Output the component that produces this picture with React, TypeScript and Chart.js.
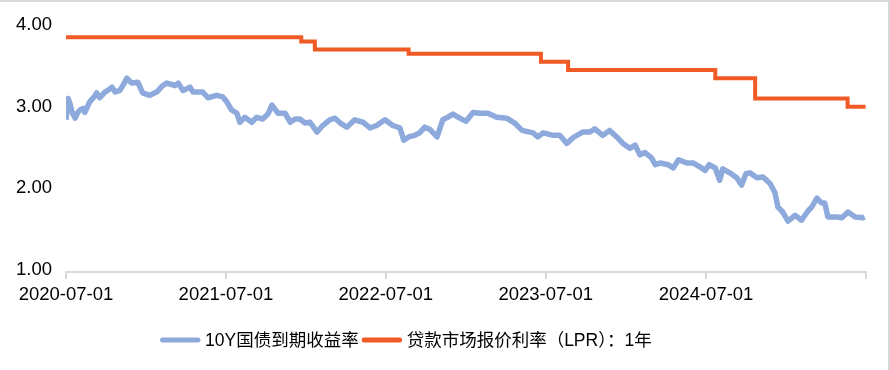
import React, { useEffect, useRef } from "react";
import { Chart, registerables } from "chart.js";

Chart.register(...registerables);

const yieldDates = [
  "2020-07-01","2020-07-06","2020-07-10","2020-07-15","2020-07-22","2020-07-28","2020-08-02","2020-08-09","2020-08-13","2020-08-24",
  "2020-09-03","2020-09-09","2020-09-16","2020-09-28","2020-10-07","2020-10-14","2020-10-21","2020-11-01","2020-11-10","2020-11-17",
  "2020-11-28","2020-12-12","2020-12-23","2021-01-08","2021-01-24","2021-02-05","2021-02-16","2021-03-07","2021-03-14","2021-03-25",
  "2021-04-10","2021-04-17","2021-05-09","2021-05-21","2021-06-10","2021-06-24","2021-07-03","2021-07-14","2021-07-26","2021-08-02",
  "2021-08-13","2021-08-29","2021-09-09","2021-09-23","2021-10-05","2021-10-14","2021-10-28","2021-11-13","2021-11-25","2021-12-06",
  "2021-12-17","2021-12-29","2022-01-09","2022-01-25","2022-02-07","2022-02-23","2022-03-07","2022-03-19","2022-04-03","2022-04-21",
  "2022-05-10","2022-05-26","2022-06-10","2022-06-29","2022-07-17","2022-08-02","2022-08-11","2022-08-22","2022-09-05","2022-09-16",
  "2022-09-28","2022-10-10","2022-10-26","2022-11-08","2022-11-19","2022-12-01","2022-12-17","2022-12-31","2023-01-16","2023-02-01",
  "2023-02-19","2023-03-11","2023-04-03","2023-04-21","2023-05-08","2023-06-02","2023-06-13","2023-06-25","2023-07-18","2023-08-02",
  "2023-08-18","2023-09-01","2023-09-23","2023-10-10","2023-10-21","2023-11-08","2023-11-24","2023-12-10","2023-12-24","2024-01-09",
  "2024-01-21","2024-02-01","2024-02-12","2024-02-28","2024-03-07","2024-03-18","2024-04-05","2024-04-17","2024-04-29","2024-05-19",
  "2024-06-02","2024-06-18","2024-06-29","2024-07-08","2024-07-22","2024-08-01","2024-08-08","2024-08-24","2024-09-09","2024-09-20",
  "2024-09-30","2024-10-09","2024-10-25","2024-11-08","2024-11-24","2024-12-05","2024-12-12","2024-12-23","2025-01-04","2025-01-20",
  "2025-02-04","2025-02-18","2025-02-27","2025-03-11","2025-03-22","2025-03-29","2025-04-05","2025-04-26","2025-05-07","2025-05-21",
  "2025-06-06","2025-06-24","2025-06-28",
];
const yieldValues = [
  2.84,3.10,3.04,2.93,2.86,2.93,2.96,2.98,2.93,3.06,
  3.12,3.17,3.11,3.18,3.21,3.24,3.18,3.20,3.28,3.35,
  3.29,3.30,3.17,3.14,3.18,3.25,3.29,3.26,3.29,3.20,
  3.24,3.18,3.18,3.11,3.14,3.12,3.06,2.96,2.92,2.81,
  2.87,2.81,2.87,2.85,2.91,3.02,2.92,2.92,2.81,2.85,
  2.85,2.80,2.81,2.69,2.77,2.84,2.86,2.80,2.75,2.84,
  2.81,2.74,2.77,2.84,2.77,2.74,2.59,2.63,2.65,2.68,
  2.75,2.72,2.63,2.84,2.87,2.91,2.86,2.82,2.93,2.92,
  2.92,2.87,2.86,2.80,2.71,2.68,2.63,2.68,2.65,2.65,
  2.55,2.62,2.69,2.69,2.73,2.65,2.71,2.63,2.55,2.49,
  2.53,2.41,2.44,2.37,2.29,2.31,2.29,2.25,2.35,2.31,
  2.31,2.26,2.22,2.29,2.25,2.10,2.24,2.19,2.13,2.04,
  2.18,2.19,2.13,2.14,2.06,1.95,1.77,1.71,1.60,1.67,
  1.61,1.72,1.77,1.88,1.82,1.82,1.65,1.65,1.64,1.71,
  1.65,1.64,1.65,
];

const lprDates = ["2020-07-01","2021-12-20","2022-01-20","2022-08-22","2023-06-20","2023-08-21","2024-07-22","2024-10-21","2025-05-20","2025-06-30"];
const lprValues = [3.85, 3.80, 3.70, 3.65, 3.55, 3.45, 3.35, 3.10, 3.00, 3.00];

const xTickDates = ["2020-07-01","2021-07-01","2022-07-01","2023-07-01","2024-07-01","2025-07-01"];
const xTickLabels = ["2020-07-01","2021-07-01","2022-07-01","2023-07-01","2024-07-01",""];
const yTickValues = [1, 2, 3, 4];

const seriesNames = ["10Y国债到期收益率", "贷款市场报价利率（LPR）：1年"];
const seriesColors = ["#8eaadc", "#f05a24"];

const ORIGIN = Date.UTC(2020, 6, 1);
const dayOf = (s: string) => {
  const [y, m, d] = s.split("-").map(Number);
  return Math.round((Date.UTC(y, m - 1, d) - ORIGIN) / 86400000);
};

const FONT = '"Liberation Sans", "Noto Sans CJK SC", sans-serif';

const legendPlugin = {
  id: "customLegend",
  afterDraw(chart: any) {
    const ctx = chart.ctx;
    ctx.save();
    ctx.font = `17.5px ${FONT}`;
    ctx.textBaseline = "middle";
    ctx.textAlign = "left";
    const y = 340;
    let x = 160;
    seriesNames.forEach((name, i) => {
      if (i === 1) x = Math.max(358, x);
      ctx.strokeStyle = seriesColors[i];
      ctx.lineWidth = 5;
      ctx.lineCap = "round";
      ctx.beginPath();
      ctx.moveTo(x + 2.5, y);
      ctx.lineTo(x + 38, y);
      ctx.stroke();
      ctx.fillStyle = "#000";
      ctx.fillText(name, x + 45, y + 1);
      x = x + 45 + ctx.measureText(name).width + 3;
    });
    ctx.restore();
  },
};

export default function App() {
  const ref = useRef<HTMLCanvasElement>(null);

  useEffect(() => {
    if (!ref.current) return;
    const yieldData = yieldDates.map((d, i) => ({ x: dayOf(d), y: yieldValues[i] }));
    const lprData = lprDates.map((d, i) => ({ x: dayOf(d), y: lprValues[i] }));
    const tickDays = xTickDates.map(dayOf);

    const chart = new Chart(ref.current, {
      type: "line",
      data: {
        datasets: [
          {
            label: seriesNames[0],
            data: yieldData,
            borderColor: seriesColors[0],
            backgroundColor: seriesColors[0],
            borderWidth: 5.5,
            pointRadius: 0,
            tension: 0,
            borderJoinStyle: "round",
          },
          {
            label: seriesNames[1],
            data: lprData,
            borderColor: seriesColors[1],
            backgroundColor: seriesColors[1],
            borderWidth: 4,
            pointRadius: 0,
            stepped: true,
          },
        ],
      },
      options: {
        animation: false,
        responsive: false,
        devicePixelRatio: 1,
        layout: { padding: { top: 25, right: 24, left: 0, bottom: 0 } },
        plugins: {
          legend: { display: false },
          tooltip: { enabled: false },
        },
        scales: {
          x: {
            type: "linear",
            min: tickDays[0],
            max: tickDays[tickDays.length - 1],
            afterBuildTicks: (s: any) => {
              s.ticks = tickDays.map((v) => ({ value: v }));
            },
            afterFit: (s: any) => {
              s.height = 98;
            },
            grid: {
              display: true,
              drawOnChartArea: false,
              drawTicks: true,
              tickLength: 7,
              color: "#d9d9d9",
              lineWidth: 2,
            },
            border: { display: true, color: "#d9d9d9", width: 2 },
            ticks: {
              autoSkip: false,
              maxRotation: 0,
              padding: 5,
              color: "#000",
              font: { size: 18.5, family: FONT },
              callback: (v: any) => {
                const idx = tickDays.indexOf(Number(v));
                return idx >= 0 ? xTickLabels[idx] : "";
              },
            },
          },
          y: {
            type: "linear",
            min: 1 - 2 / 81.67,
            max: 4,
            afterBuildTicks: (s: any) => {
              s.ticks = yTickValues.map((v) => ({ value: v }));
            },
            afterFit: (s: any) => {
              s.width = 66;
            },
            grid: { display: false, drawTicks: false },
            border: { display: false },
            ticks: {
              padding: 14,
              color: "#000",
              font: { size: 18.5, family: FONT },
              callback: (v: any) => Number(v).toFixed(2),
            },
          },
        },
      },
      plugins: [legendPlugin],
    } as any);
    return () => chart.destroy();
  }, []);

  return (
    <div style={{ position: "fixed", left: 0, top: 0, width: 890, height: 370, background: "#fff" }}>
      <canvas ref={ref} width={890} height={370} style={{ display: "block", width: 890, height: 370 }} />
      <div
        style={{
          position: "absolute",
          left: 0,
          top: 0,
          width: 890,
          height: 370,
          boxSizing: "border-box",
          borderTop: "2px solid #d9d9d9",
          borderRight: "2px solid #d9d9d9",
          pointerEvents: "none",
        }}
      />
    </div>
  );
}
